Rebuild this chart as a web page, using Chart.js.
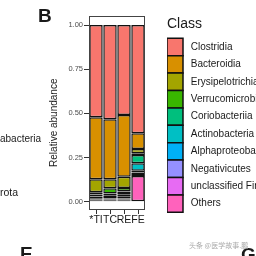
<!DOCTYPE html>
<html>
<head>
<meta charset="utf-8">
<script src="https://cdn.jsdelivr.net/npm/chart.js@4"></script>
<style>
  body { margin: 0; background: #fff; overflow: hidden; width: 256px; height: 256px; position: relative; }
  canvas { position: absolute; left: 0; top: 0; }
  .txt { position: absolute; font-family: "Liberation Sans", Arial, sans-serif; line-height: 1; white-space: nowrap; color: #1a1a1a; }
</style>
</head>
<body>
<canvas id="myChart" width="267" height="256"></canvas>
<div class="txt" style="left:38px; top:6px; font-size:19px; font-weight:bold;">B</div>
<div class="txt" style="left:0px; top:134px; font-size:10px;">abacteria</div>
<div class="txt" style="left:0px; top:187px; font-size:10.5px;">rota</div>
<div class="txt" style="left:20px; top:244px; font-size:19px; font-weight:bold;">E</div>
<div class="txt" style="left:241px; top:245px; font-size:19px; font-weight:bold;">G</div>
<div class="txt" style="left:189px; top:242px; font-size:7px; color:#aaa; font-family:'Noto Sans CJK SC', sans-serif;">头条 @医学故事.鹏</div>
<script>
// samples on the x axis
const categories = ['*TI', 'TC', 'RE', 'FE'];

// classes, top of the stack first (same order as the legend)
const classes = [
  'Clostridia', 'Bacteroidia', 'Erysipelotrichia', 'Verrucomicrobiae',
  'Coriobacteriia', 'Actinobacteria', 'Alphaproteobacteria',
  'Negativicutes', 'unclassified Firmicutes', 'Others'
];

// relative abundance per sample (*TI, TC, RE, FE)
const clostridia          = [0.522, 0.534, 0.510, 0.613];
const bacteroidia         = [0.351, 0.339, 0.349, 0.089];
const erysipelotrichia    = [0.074, 0.051, 0.064, 0.024];
const verrucomicrobiae    = [0.012, 0.030, 0.020, 0.010];
const coriobacteriia      = [0.012, 0.012, 0.015, 0.047];
const actinobacteria      = [0.012, 0.008, 0.014, 0.042];
const alphaproteobacteria = [0.004, 0.008, 0.010, 0.010];
const negativicutes       = [0.005, 0.006, 0.006, 0.014];
const unclassifiedF       = [0.004, 0.006, 0.006, 0.006];
const others              = [0.004, 0.006, 0.006, 0.145];

const values = [clostridia, bacteroidia, erysipelotrichia, verrucomicrobiae,
  coriobacteriia, actinobacteria, alphaproteobacteria, negativicutes,
  unclassifiedF, others];

const colors = ['#F8766D', '#D89000', '#A3A500', '#39B600', '#00BF7D',
  '#00BFC4', '#00B0F6', '#9590FF', '#E76BF3', '#FF62BC'];

const yTicks = [0, 0.25, 0.5, 0.75, 1];

const font = { family: "'Liberation Sans', Arial, sans-serif" };

// Chart.js stacks the first dataset at the bottom, so go from Others up
var data = { labels: categories, datasets: [] };
for (let i = classes.length - 1; i >= 0; i--) {
  data.datasets.push({
    label: classes[i],
    data: values[i],
    backgroundColor: colors[i],
    borderColor: '#111',
    borderWidth: 1.5,
    borderSkipped: false,
    barPercentage: 0.96,
    categoryPercentage: 1
  });
}

// grey box around the plotting panel
const panelBorder = {
  id: 'panelBorder',
  afterDatasetsDraw(chart) {
    const a = chart.chartArea;
    const ctx = chart.ctx;
    ctx.save();
    ctx.strokeStyle = '#444';
    ctx.lineWidth = 1;
    ctx.strokeRect(a.left + 0.5, a.top + 0.5, a.right - a.left - 1, a.bottom - a.top - 1);
    ctx.restore();
  }
};

const myChart = new Chart(document.getElementById('myChart'), {
  type: 'bar',
  data,
  plugins: [panelBorder],
  options: {
    responsive: false,
    animation: false,
    devicePixelRatio: 1,
    layout: { padding: { left: 44, top: 16, bottom: 22, right: 0 } },
    scales: {
      x: {
        stacked: true,
        offset: true,
        grid: { offset: false, drawOnChartArea: false, drawTicks: true, tickLength: 4, color: '#333' },
        border: { display: false },
        ticks: { color: '#1a1a1a', padding: 0, maxRotation: 0, autoSkip: false, font: { ...font, size: 10.5 } },
        afterFit(s) { s.height = 24; }
      },
      y: {
        stacked: true,
        min: -0.047,
        max: 1.051,
        grid: { drawOnChartArea: false, drawTicks: true, tickLength: 5, color: '#333' },
        border: { display: false },
        afterBuildTicks(s) { s.ticks = yTicks.map(v => ({ value: v })); },
        ticks: {
          color: '#4d4d4d',
          padding: 1,
          font: { ...font, size: 7.5 },
          callback: v => v.toFixed(2)
        },
        title: {
          display: true,
          text: 'Relative abundance       ',
          color: '#1a1a1a',
          padding: { top: 4, bottom: 0 },
          font: { ...font, size: 10 }
        },
        afterFit(s) { s.width = 45; }
      },
      y2: {
        type: 'linear',
        position: 'right',
        display: true,
        grid: { display: false },
        border: { display: false },
        ticks: { display: false },
        afterFit(s) { s.width = 22; }
      }
    },
    plugins: {
      tooltip: { enabled: false },
      legend: {
        position: 'right',
        align: 'start',
        reverse: true,
        maxWidth: 100,
        title: {
          display: true,
          text: 'Class',
          position: 'start',
          color: '#1a1a1a',
          padding: { top: 1, bottom: 4.5 },
          font: { ...font, size: 14 }
        },
        labels: {
          boxWidth: 16,
          boxHeight: 17.4,
          padding: 0,
          color: '#1a1a1a',
          font: { ...font, size: 10 },
          generateLabels(chart) {
            const items = Chart.defaults.plugins.legend.labels.generateLabels(chart);
            items.forEach(it => { it.text = ' ' + it.text; });
            return items;
          }
        }
      }
    }
  }
});
</script>
</body>
</html>
